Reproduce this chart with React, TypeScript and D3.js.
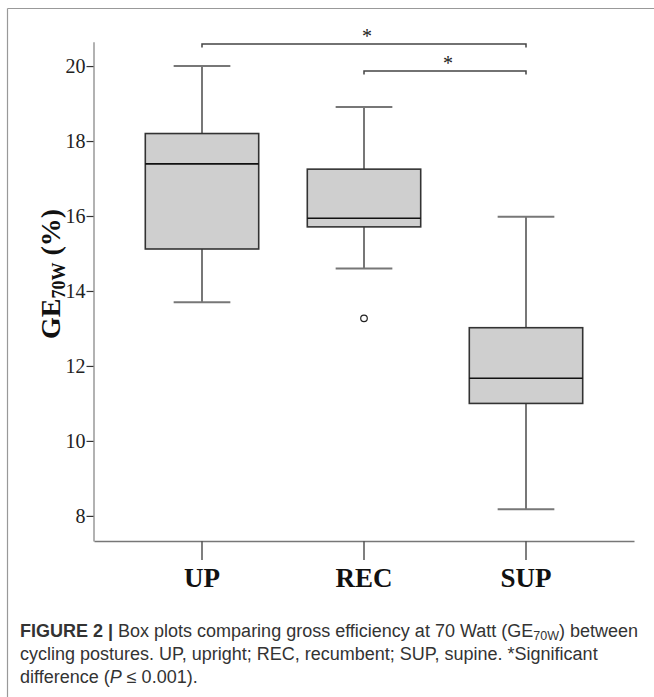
import { useRef, useEffect } from "react";
import * as d3 from "d3";

const categories = ["UP", "REC", "SUP"];
const whiskerLow = [13.7, 14.6, 8.18];
const q1 = [15.12, 15.71, 11.0];
const medians = [17.39, 15.94, 11.67];
const q3 = [18.2, 17.25, 13.02];
const whiskerHigh = [20.0, 18.91, 15.98];
const outlierCats = ["REC"];
const outlierValues = [13.27];
const yTicks = [8, 10, 12, 14, 16, 18, 20];
const bracketFrom = ["UP", "REC"];
const bracketTo = ["SUP", "SUP"];
const bracketLabels = ["*", "*"];

const W = 654;
const H = 697;
const SERIF = "'Liberation Serif', 'Times New Roman', serif";

const App = () => {
  const ref = useRef<HTMLDivElement>(null);

  useEffect(() => {
    const svg = d3
      .select(ref.current)
      .html("")
      .append("svg")
      .attr("width", W)
      .attr("height", H)
      .style("display", "block")
      .style("position", "absolute")
      .style("left", "0px")
      .style("top", "0px")
      .style("background", "#fff");

    // figure frame (top + left only)
    svg.append("line").attr("x1", 7.5).attr("x2", W).attr("y1", 8.5).attr("y2", 8.5)
      .attr("stroke", "#999").attr("stroke-width", 1.2);
    svg.append("line").attr("x1", 7.5).attr("x2", 7.5).attr("y1", 8.5).attr("y2", H)
      .attr("stroke", "#999").attr("stroke-width", 1.2);

    const x = d3.scaleBand().domain(categories).range([94, 634]).paddingInner(0).paddingOuter(1 / 6);
    const y = d3.scaleLinear().domain([7.33, 20.65]).range([541, 41.7]);
    const cx = (c: string) => (x(c) ?? 0) + x.bandwidth() / 2;
    const boxW = x.bandwidth() * 0.7;
    const capW = x.bandwidth() * 0.35;

    // y axis
    const gy = svg.append("g").attr("transform", "translate(93.5,0)")
      .call(d3.axisLeft(y).tickValues(yTicks).tickSize(7).tickSizeOuter(0).tickPadding(1).tickFormat(d3.format("d")))
      .attr("font-family", SERIF)
      .attr("font-size", 20);
    gy.select(".domain").attr("stroke", "#999").attr("stroke-width", 1.5);
    gy.selectAll(".tick line").attr("stroke", "#333").attr("stroke-width", 1.2);
    gy.selectAll(".tick text").style("font-family", SERIF).attr("fill", "#222");

    // x axis
    const gx = svg.append("g").attr("transform", "translate(0,541)")
      .call(d3.axisBottom(x).tickSize(19).tickSizeOuter(0).tickPadding(8))
      .attr("font-family", SERIF)
      .attr("font-size", 27);
    gx.select(".domain").attr("stroke", "#777").attr("stroke-width", 1.5);
    gx.selectAll(".tick line").attr("stroke", "#555").attr("stroke-width", 1.5);
    gx.selectAll(".tick text").style("font-family", SERIF).attr("font-weight", "bold").attr("fill", "#111");

    // y label
    const yl = svg.append("text")
      .attr("transform", "translate(60,274) rotate(-90)")
      .attr("text-anchor", "middle")
      .style("font-family", SERIF)
      .attr("font-weight", "bold")
      .attr("font-size", 28)
      .attr("fill", "#111");
    yl.append("tspan").text("GE");
    yl.append("tspan").attr("font-size", 18).attr("dy", 5).text("70W");
    yl.append("tspan").attr("dy", -5).text(" (%)");

    const idx = categories.map((_, i) => i);
    const g = svg.append("g");

    // whiskers
    g.selectAll(".whisker").data(idx).enter().append("line")
      .attr("x1", (i) => cx(categories[i])).attr("x2", (i) => cx(categories[i]))
      .attr("y1", (i) => y(whiskerLow[i])).attr("y2", (i) => y(whiskerHigh[i]))
      .attr("stroke", "#777").attr("stroke-width", 2);
    g.selectAll(".capHi").data(idx).enter().append("line")
      .attr("x1", (i) => cx(categories[i]) - capW / 2).attr("x2", (i) => cx(categories[i]) + capW / 2)
      .attr("y1", (i) => y(whiskerHigh[i])).attr("y2", (i) => y(whiskerHigh[i]))
      .attr("stroke", "#777").attr("stroke-width", 2);
    g.selectAll(".capLo").data(idx).enter().append("line")
      .attr("x1", (i) => cx(categories[i]) - capW / 2).attr("x2", (i) => cx(categories[i]) + capW / 2)
      .attr("y1", (i) => y(whiskerLow[i])).attr("y2", (i) => y(whiskerLow[i]))
      .attr("stroke", "#777").attr("stroke-width", 2);

    // boxes
    g.selectAll(".box").data(idx).enter().append("rect")
      .attr("x", (i) => cx(categories[i]) - boxW / 2)
      .attr("y", (i) => y(q3[i]))
      .attr("width", boxW)
      .attr("height", (i) => y(q1[i]) - y(q3[i]))
      .attr("fill", "#cfcfcf").attr("stroke", "#333").attr("stroke-width", 1.6);
    g.selectAll(".median").data(idx).enter().append("line")
      .attr("x1", (i) => cx(categories[i]) - boxW / 2).attr("x2", (i) => cx(categories[i]) + boxW / 2)
      .attr("y1", (i) => y(medians[i])).attr("y2", (i) => y(medians[i]))
      .attr("stroke", "#111").attr("stroke-width", 1.6);

    // outliers
    g.selectAll(".outlier").data(outlierValues).enter().append("circle")
      .attr("cx", (d, i) => cx(outlierCats[i])).attr("cy", (d) => y(d)).attr("r", 3.3)
      .attr("fill", "#fff").attr("stroke", "#222").attr("stroke-width", 1.2);

    // significance brackets
    const bracketY = [44, 71];
    bracketFrom.forEach((from, i) => {
      const x1 = cx(from), x2 = cx(bracketTo[i]), by = bracketY[i];
      svg.append("path")
        .attr("d", `M${x1},${by + 3.5}V${by}H${x2}V${by + 3.5}`)
        .attr("fill", "none").attr("stroke", "#444").attr("stroke-width", 1.5);
      svg.append("text")
        .attr("x", (x1 + x2) / 2 + 3).attr("y", by - 1)
        .attr("text-anchor", "middle")
        .style("font-family", SERIF)
        .attr("font-size", 20).attr("fill", "#222")
        .text(bracketLabels[i]);
    });

    // caption
    const cap = svg.append("g")
      .attr("font-family", "'Liberation Sans', Arial, sans-serif")
      .attr("font-size", 18).attr("fill", "#333");
    const l1 = cap.append("text").attr("x", 20).attr("y", 637);
    l1.append("tspan").attr("font-weight", "bold").text("FIGURE 2 |");
    l1.append("tspan").text(" Box plots comparing gross efficiency at 70 Watt (GE");
    l1.append("tspan").attr("font-size", 12.5).attr("dy", 3).text("70W");
    l1.append("tspan").attr("dy", -3).text(") between");
    cap.append("text").attr("x", 20).attr("y", 660)
      .text("cycling postures. UP, upright; REC, recumbent; SUP, supine. *Significant");
    const l3 = cap.append("text").attr("x", 20).attr("y", 683);
    l3.append("tspan").text("difference (");
    l3.append("tspan").attr("font-style", "italic").text("P");
    l3.append("tspan").text(" ≤ 0.001).");
  }, []);

  return <div ref={ref} />;
};

export default App;
